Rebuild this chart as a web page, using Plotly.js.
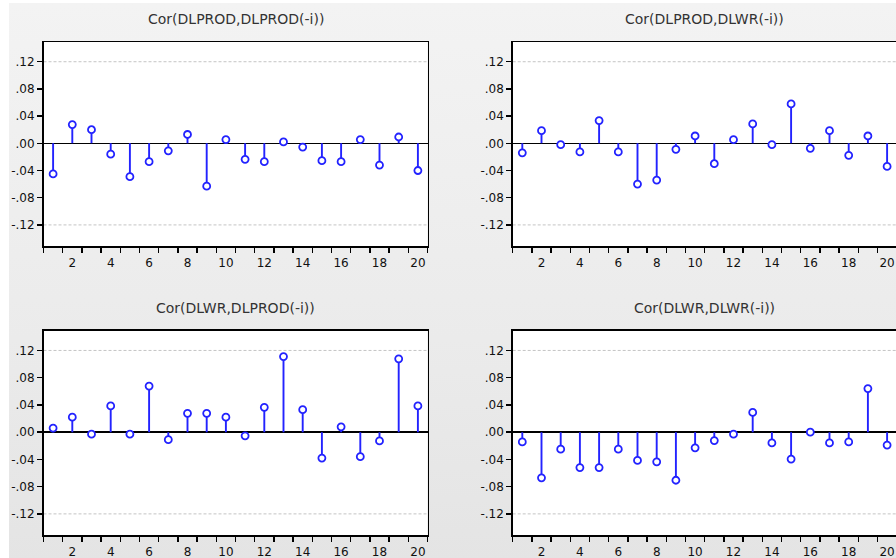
<!DOCTYPE html>
<html>
<head>
<meta charset="utf-8">
<script src="https://cdn.plot.ly/plotly-3.0.1.min.js"></script>
<style>
html,body{margin:0;padding:0;width:896px;height:558px;overflow:hidden;background:#ffffff;}
#bg{position:absolute;left:9px;top:3px;width:900px;height:560px;background:linear-gradient(#f3f3f3,#ebebeb 60%,#e4e4e4);}
#chart{position:absolute;left:0;top:0;width:900px;height:558px;}
</style>
</head>
<body>
<div id="bg"></div>
<div id="chart"></div>
<script>
// Lags
const lags = [1,2,3,4,5,6,7,8,9,10,11,12,13,14,15,16,17,18,19,20];
// Panel titles
const titles = ["Cor(DLPROD,DLPROD(-i))","Cor(DLPROD,DLWR(-i))","Cor(DLWR,DLPROD(-i))","Cor(DLWR,DLWR(-i))"];
// Cross-correlation values per panel
const corProdProd = [-0.045,0.0275,0.020,-0.016,-0.049,-0.027,-0.011,0.013,-0.063,0.0055,-0.0235,-0.027,0.002,-0.0055,-0.0255,-0.027,0.0055,-0.032,0.0093,-0.040];
const corProdWr   = [-0.014,0.0186,-0.002,-0.0127,0.0334,-0.0127,-0.060,-0.054,-0.0088,0.0108,-0.030,0.0054,0.0285,-0.002,0.058,-0.0074,0.0186,-0.0176,0.0108,-0.034];
const corWrProd   = [0.006,0.022,-0.003,0.0385,-0.003,0.0677,-0.011,0.0277,0.0277,0.022,-0.0054,0.0365,0.111,0.033,-0.038,0.0079,-0.036,-0.0128,0.1077,0.0385];
const corWrWr     = [-0.0143,-0.067,-0.025,-0.052,-0.052,-0.025,-0.0415,-0.0435,-0.0706,-0.023,-0.0123,-0.003,0.029,-0.0158,-0.0395,0.000,-0.0158,-0.0143,0.064,-0.019];
// Axis ticks
const xTickVals = [2,4,6,8,10,12,14,16,18,20];
const yTickVals = [-0.12,-0.08,-0.04,0,0.04,0.08,0.12];

const series = [corProdProd, corProdWr, corWrProd, corWrWr];
const W = 900, H = 558;
const fmt = v => { if (v === 0) return ".00"; const s = Math.abs(v).toFixed(2).replace(/^0/,""); return (v<0?"-":"")+s; };
const yTickText = yTickVals.map(fmt);

const blue = "#2323ff";
const xDom = [[43.5/W, 427.5/W],[512.7/W, 896.7/W],[43.5/W, 427.5/W],[512.7/W, 896.7/W]];
const yDom = [[1-246/H, 1-42/H],[1-246/H, 1-42/H],[1-535/H, 1-330.7/H],[1-535/H, 1-330.7/H]];
const titleY = [1-18.5/H, 1-18.5/H, 1-307.5/H, 1-307.5/H];

const traces = [];
const layout = {
  width: W, height: H,
  margin: {l:0, r:0, t:0, b:0},
  paper_bgcolor: "rgba(0,0,0,0)",
  plot_bgcolor: "#ffffff",
  showlegend: false,
  shapes: [],
  annotations: []
};
const tickFont = {family: "DejaVu Sans", size: 12, color: "#111"};

series.forEach((vals, i) => {
  const n = i === 0 ? "" : String(i+1);
  const xa = "x"+n, ya = "y"+n;
  const sx = [], sy = [];
  lags.forEach((l, k) => { sx.push(l, l, null); sy.push(0, vals[k], null); });
  traces.push({type:"scatter", mode:"lines", x:sx, y:sy, xaxis:xa, yaxis:ya,
    line:{color:blue, width:1.9}, hoverinfo:"skip"});
  traces.push({type:"scatter", mode:"markers", x:lags, y:vals, xaxis:xa, yaxis:ya,
    marker:{symbol:"circle", size:7, color:"#ffffff", line:{color:blue, width:1.8}}});
  layout["xaxis"+n] = {
    domain: xDom[i], anchor: ya, range:[0.5, 20.5],
    tickmode:"array", tickvals:xTickVals, ticks:"outside", ticklen:5, tickcolor:"rgba(0,0,0,0)",
    minor:{ticks:"outside", tick0:0.5, dtick:1, ticklen:5, tickwidth:1.5, tickcolor:"#000", showgrid:false},
    showgrid:false, zeroline:false, showline:true, mirror:true, linecolor:"#000", linewidth:1.5,
    tickfont: tickFont, fixedrange:true
  };
  layout["yaxis"+n] = {
    domain: yDom[i], anchor: xa, range:[-0.151, 0.149],
    tickmode:"array", tickvals:yTickVals, ticktext:yTickText, ticks:"outside", ticklen:5, tickwidth:1.5, tickcolor:"#000",
    showgrid:false, zeroline:true, zerolinecolor:"#000", zerolinewidth:1.5,
    showline:true, mirror:true, linecolor:"#000", linewidth:1.5,
    tickfont: tickFont, fixedrange:true
  };
  [-0.12, 0.12].forEach(g => layout.shapes.push({type:"line", xref:xa+" domain", x0:0, x1:1, yref:ya, y0:g, y1:g,
    line:{color:"#c4c4c4", width:1, dash:"3px,2px"}, layer:"below"}));
  layout.annotations.push({text:titles[i], xref:"paper", yref:"paper",
    x:(xDom[i][0]+xDom[i][1])/2, y:titleY[i], xanchor:"center", yanchor:"middle", showarrow:false,
    font:{family:"DejaVu Sans", size:14, color:"#333"}});
});

Plotly.newPlot("chart", traces, layout, {staticPlot:true, displayModeBar:false});
</script>
</body>
</html>
